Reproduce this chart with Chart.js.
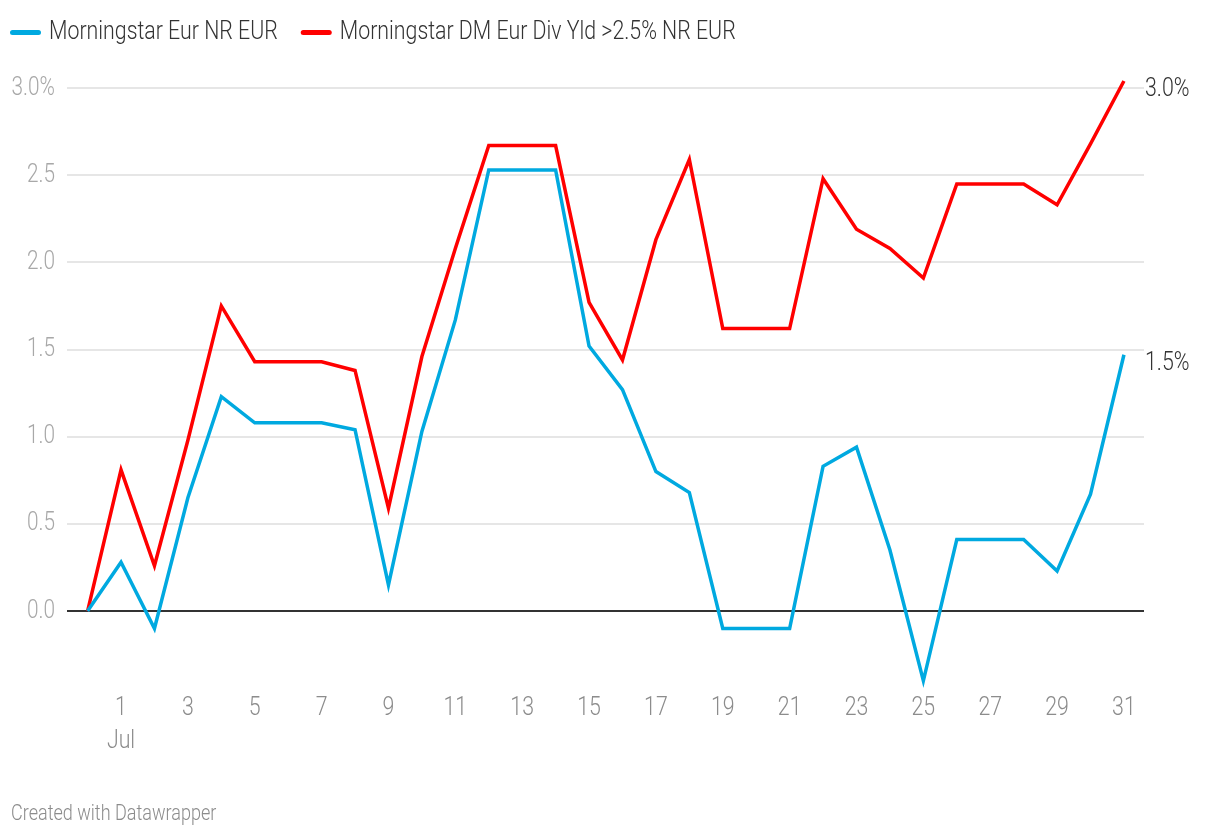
<!DOCTYPE html>
<html>
<head>
<meta charset="utf-8">
<script src="https://cdn.jsdelivr.net/npm/chart.js@4.4.1/dist/chart.umd.min.js"></script>
<style>
  html, body { margin: 0; padding: 0; background: #fff; }
  #wrap { position: relative; width: 1220px; height: 836px; }
</style>
</head>
<body>
<div id="wrap"><canvas id="chart"></canvas></div>
<script>
// days of July (0 = last close of June)
var days = [0, 1, 2, 3, 4, 5, 6, 7, 8, 9, 10, 11, 12, 13, 14, 15, 16, 17, 18, 19, 20, 21, 22, 23, 24, 25, 26, 27, 28, 29, 30, 31];
// cumulative return, %
var eurNR = [0, 0.28, -0.10, 0.65, 1.23, 1.08, 1.08, 1.08, 1.04, 0.15, 1.03, 1.67, 2.53, 2.53, 2.53, 1.52,
  1.27, 0.80, 0.68, -0.10, -0.10, -0.10, 0.83, 0.94, 0.35, -0.40, 0.41, 0.41, 0.41, 0.23, 0.67, 1.47];
var dmDivYld = [0, 0.81, 0.26, 0.98, 1.75, 1.43, 1.43, 1.43, 1.38, 0.59, 1.46, 2.08, 2.67, 2.67, 2.67, 1.77,
  1.44, 2.13, 2.59, 1.62, 1.62, 1.62, 2.48, 2.19, 2.08, 1.91, 2.45, 2.45, 2.45, 2.33, 2.68, 3.04];
var seriesNames = ['Morningstar Eur NR EUR', 'Morningstar DM Eur Div Yld >2.5% NR EUR'];
var seriesColors = ['#00a9e0', '#ff0000'];
var xTicks = [1, 3, 5, 7, 9, 11, 13, 15, 17, 19, 21, 23, 25, 27, 29, 31];
var xTickLabels = [['1', 'Jul'], '3', '5', '7', '9', '11', '13', '15', '17', '19', '21', '23', '25', '27', '29', '31'];
var yTicks = [0, 0.5, 1, 1.5, 2, 2.5, 3];

var FONT = "Roboto, 'Noto Sans', sans-serif";

function pts(vals) {
  return days.map(function(d, i) { return { x: d, y: vals[i] }; });
}

// the original uses a condensed face, so squeeze Roboto horizontally by k
function txt(ctx, s, x, y, align, size, color, k) {
  ctx.save();
  ctx.font = '300 ' + size + 'px ' + FONT;
  ctx.fillStyle = color;
  ctx.textBaseline = 'middle';
  ctx.textAlign = align;
  ctx.translate(x, y);
  ctx.scale(k, 1);
  ctx.fillText(s, 0, 0);
  var w = ctx.measureText(s).width * k;
  ctx.restore();
  return w;
}

var dwLabels = {
  id: 'dwLabels',
  afterDraw: function(chart) {
    var ctx = chart.ctx, area = chart.chartArea, ys = chart.scales.y, xs = chart.scales.x;

    // legend
    var lx = 10;
    chart.data.datasets.forEach(function(ds) {
      ctx.fillStyle = ds.borderColor;
      ctx.beginPath();
      ctx.roundRect(lx, 30, 31, 5, 2.5);
      ctx.fill();
      var w = txt(ctx, ds.label, lx + 39, 32.5, 'left', 26, '#333', 0.82);
      lx += 39 + w + 23;
    });

    // y tick labels, "%" only on the top one
    yTicks.forEach(function(v, i) {
      var s = v.toFixed(1) + (i === yTicks.length - 1 ? '%' : '');
      txt(ctx, s, area.left - 12, ys.getPixelForValue(v), 'right', 26, '#a8a8a8', 0.8);
    });

    // x tick labels
    xTicks.forEach(function(v, i) {
      [].concat(xTickLabels[i]).forEach(function(s, j) {
        txt(ctx, s, xs.getPixelForValue(v), area.bottom + 18.5 + j * 33, 'center', 26, '#8c8c8c', 0.82);
      });
    });

    // value labels at line ends
    chart.data.datasets.forEach(function(ds, i) {
      var meta = chart.getDatasetMeta(i);
      var last = meta.data[meta.data.length - 1];
      var val = ds.data[ds.data.length - 1].y;
      txt(ctx, val.toFixed(1) + '%', area.right + 1, last.y + 8.5, 'left', 26, '#333', 0.82);
    });

    // credit
    txt(ctx, 'Created with Datawrapper', 11, chart.height - 22, 'left', 22, '#8c8c8c', 0.82);
  }
};

var ctx = document.getElementById('chart').getContext('2d');
var myChart = new Chart(ctx, {
  type: 'line',
  data: {
    datasets: [{
      label: seriesNames[0],
      data: pts(eurNR),
      borderColor: seriesColors[0],
      borderWidth: 3.5,
      pointRadius: 0,
      tension: 0,
      clip: false
    }, {
      label: seriesNames[1],
      data: pts(dmDivYld),
      borderColor: seriesColors[1],
      borderWidth: 3.5,
      pointRadius: 0,
      tension: 0,
      clip: false
    }]
  },
  options: {
    responsive: true,
    maintainAspectRatio: false,
    animation: false,
    layout: {
      padding: { left: 10, right: 76, top: 79.3, bottom: 146.5 }
    },
    scales: {
      x: {
        type: 'linear',
        min: -0.616,
        max: 31.6,
        afterBuildTicks: function(scale) {
          scale.ticks = xTicks.map(function(v) { return { value: v }; });
        },
        afterFit: function(scale) { scale.height = 0; },
        grid: { display: false },
        border: { display: false },
        ticks: { display: false }
      },
      y: {
        min: -0.45,
        max: 3.05,
        afterBuildTicks: function(scale) {
          scale.ticks = yTicks.map(function(v) { return { value: v }; });
        },
        afterFit: function(scale) { scale.width = 57; },
        border: { display: false },
        ticks: { display: false },
        grid: {
          drawTicks: false,
          color: function(c) { return c.tick && c.tick.value === 0 ? '#333' : '#e6e6e6'; },
          lineWidth: 2
        }
      }
    },
    plugins: {
      legend: { display: false },
      tooltip: { enabled: false }
    }
  },
  plugins: [dwLabels]
});
</script>
</body>
</html>
